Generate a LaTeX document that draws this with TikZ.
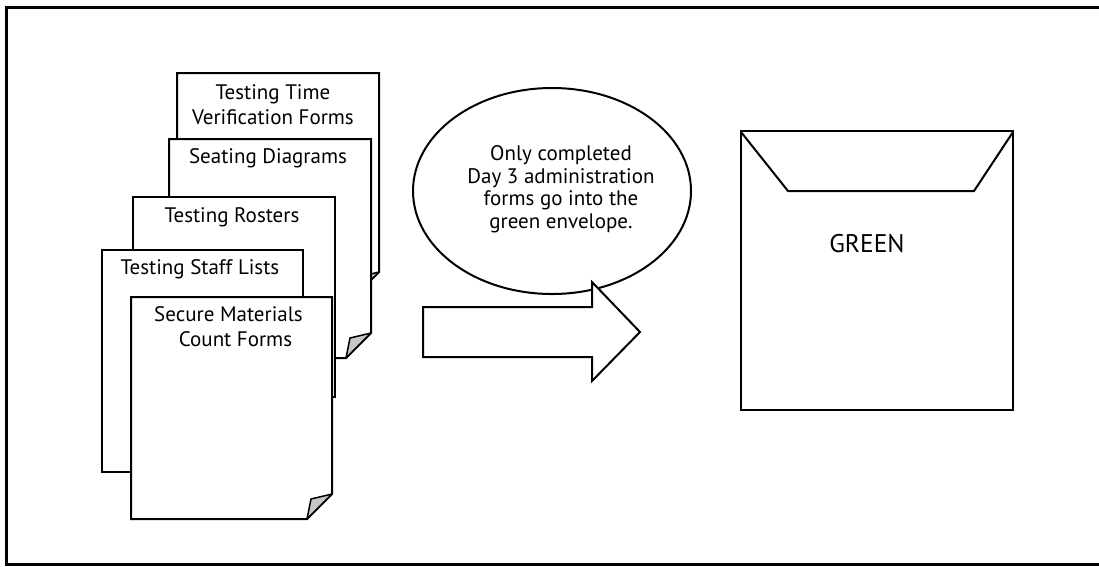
\documentclass[tikz,border=0pt]{standalone}
\usepackage{fontspec}
\setmainfont{PT Sans}
\usetikzlibrary{shapes.geometric}
\tikzset{
  sheet/.style={draw=black, fill=white, line width=2pt, line join=miter},
  curl/.style={draw=black, fill=black!22, line width=1.5pt, line join=round},
  label/.style={font=\fontsize{21}{25}\selectfont, inner sep=0pt, align=center},
  bubble/.style={draw=black, fill=white, line width=2pt, ellipse},
}
% a sheet of paper with its lower right corner curled up
\newcommand{\docsheet}[5]{%
  \path[sheet] (#1,#2) -- (#3,#2) -- (#3,#4-#5) -- (#3-#5,#4) -- (#1,#4) -- cycle;
  \path[curl] (#3,#4-#5) -- (#3-#5,#4) -- (#3-#5+4,#4-#5+5) -- cycle;
}
\begin{document}
\begin{tikzpicture}[x=1pt,y=-1pt]
\useasboundingbox (0,0) rectangle (1099,566);
% outer frame
\draw[line width=3pt] (1110,7) -- (6,7) -- (6,564.5) -- (1110,564.5);

% stack of forms, back to front
\docsheet{177}{73}{379}{297}{25}
\docsheet{169}{139}{371}{358}{25}
\path[sheet] (133,197) rectangle (335,397);
\path[sheet] (102,250) rectangle (303,472);
\docsheet{131}{297}{332}{519}{25}

\node[label] (timeforms) at (273,104.5) {Testing Time\\Verification Forms};
\node[label] (seating) at (268,158) {Seating Diagrams};
\node[label] (rosters) at (232,217) {Testing Rosters};
\node[label] (stafflists) at (200,269) {Testing Staff Lists};
\node[label] (countforms) at (228.5,327) {Secure Materials\\\hspace*{14pt}Count Forms};

% note bubble
\node[bubble, minimum width=278pt, minimum height=206pt, inner sep=0pt] (note) at (552,191) {};
\node[label, font=\fontsize{21}{22.5}\selectfont] (notetext) at (561,189) {Only completed\\Day 3 administration\\forms go into the\\green envelope.};

% block arrow toward the envelope
\path[sheet] (423,307) -- (592,307) -- (592,282) -- (640,332) -- (592,381) -- (592,357) -- (423,357) -- cycle;

% envelope with its flap
\path[sheet] (741,131) rectangle (1013,410);
\draw[line width=2pt, line join=miter] (741,132) -- (788,191) -- (974,191) -- (1013,132);
\node[label, font=\fontsize{25.5}{30}\selectfont] (green) at (867,244) {GREEN};
\end{tikzpicture}
\end{document}
